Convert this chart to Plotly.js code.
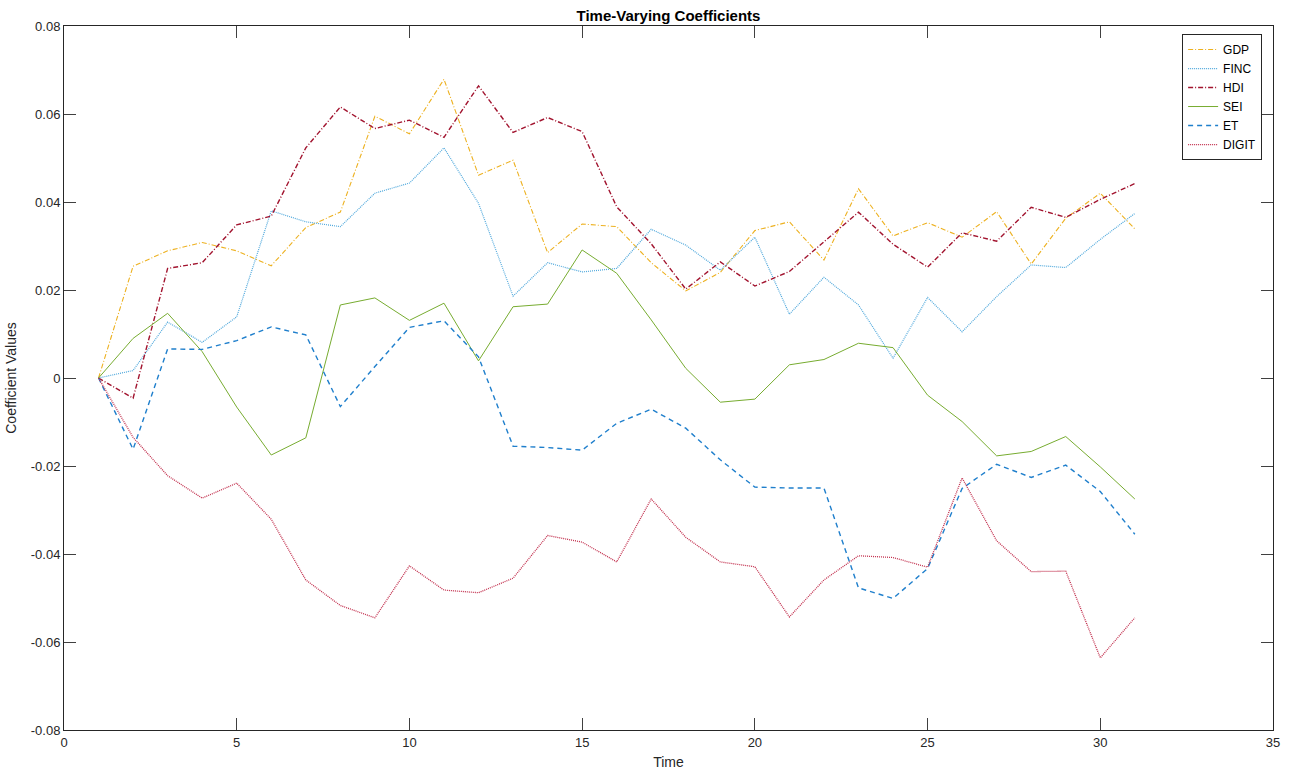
<!DOCTYPE html>
<html>
<head>
<meta charset="utf-8">
<script src="https://cdn.plot.ly/plotly-3.0.1.min.js"></script>
<style>
html,body{margin:0;padding:0;background:#fff;}
#chart{width:1294px;height:771px;}
</style>
</head>
<body>
<div id="chart"></div>
<script>
const time = [1,2,3,4,5,6,7,8,9,10,11,12,13,14,15,16,17,18,19,20,21,22,23,24,25,26,27,28,29,30,31];

const GDP = [0, 0.0254, 0.0289, 0.0308, 0.0289, 0.0255, 0.0342, 0.0377, 0.0595, 0.0555, 0.0679,
  0.0461, 0.0495, 0.0285, 0.0350, 0.0344, 0.0262, 0.0198, 0.0240, 0.0335, 0.0355,
  0.0268, 0.0430, 0.0323, 0.0353, 0.0320, 0.0378, 0.0259, 0.0363, 0.0420, 0.0339];

const FINC = [0, 0.0017, 0.0127, 0.0081, 0.0139, 0.0380, 0.0355, 0.0344, 0.0420, 0.0443, 0.0523,
  0.0397, 0.0186, 0.0262, 0.0241, 0.0249, 0.0338, 0.0302, 0.0245, 0.0320, 0.0145,
  0.0229, 0.0166, 0.0045, 0.0183, 0.0105, 0.0185, 0.0257, 0.0251, 0.0315, 0.0374];

const HDI = [0, -0.0046, 0.0249, 0.0262, 0.0348, 0.0368, 0.0523, 0.0616, 0.0567, 0.0586, 0.0547,
  0.0664, 0.0558, 0.0592, 0.0560, 0.0389, 0.0305, 0.0202, 0.0264, 0.0209, 0.0242,
  0.0310, 0.0377, 0.0304, 0.0252, 0.0330, 0.0311, 0.0388, 0.0365, 0.0406, 0.0442];

const SEI = [0, 0.0090, 0.0147, 0.0060, -0.0066, -0.0175, -0.0136, 0.0166, 0.0182, 0.0131, 0.0170,
  0.0039, 0.0162, 0.0168, 0.0291, 0.0238, 0.0132, 0.0022, -0.0055, -0.0048, 0.0030,
  0.0042, 0.0079, 0.0069, -0.0039, -0.0099, -0.0177, -0.0167, -0.0133, -0.0202, -0.0275];

const ET = [0, -0.0162, 0.0066, 0.0065, 0.0085, 0.0116, 0.0098, -0.0065, 0.0026, 0.0115, 0.0130,
  0.0048, -0.0155, -0.0158, -0.0164, -0.0103, -0.0071, -0.0114, -0.0186, -0.0248, -0.0250,
  -0.0250, -0.0477, -0.0501, -0.0433, -0.0251, -0.0196, -0.0226, -0.0198, -0.0258, -0.0355];

const DIGIT = [0, -0.0135, -0.0222, -0.0273, -0.0239, -0.0321, -0.0459, -0.0517, -0.0545, -0.0427, -0.0482,
  -0.0488, -0.0455, -0.0358, -0.0373, -0.0418, -0.0275, -0.0362, -0.0418, -0.0429, -0.0543,
  -0.0459, -0.0404, -0.0408, -0.0430, -0.0227, -0.0370, -0.0440, -0.0439, -0.0636, -0.0545];

const seriesNames = ['GDP', 'FINC', 'HDI', 'SEI', 'ET', 'DIGIT'];
const seriesData = [GDP, FINC, HDI, SEI, ET, DIGIT];
const seriesColors = ['#EDB120', '#4FA8DC', '#A2142F', '#77AC30', '#1F7FCC', '#C2304E'];
const seriesDash = ['5px,2px,1px,2px', '1px,1px', '5px,2px,1px,2px', 'solid', '5px,4px', '1px,1px'];
const seriesWidth = [1.1, 1.2, 1.4, 1.0, 1.4, 1.3];

const xTickVals = [0, 5, 10, 15, 20, 25, 30, 35];
const xTickText = ['0', '5', '10', '15', '20', '25', '30', '35'];
const yTickVals = [-0.08, -0.06, -0.04, -0.02, 0, 0.02, 0.04, 0.06, 0.08];
const yTickText = ['-0.08', '-0.06', '-0.04', '-0.02', '0', '0.02', '0.04', '0.06', '0.08'];

const traces = seriesNames.map((n, i) => ({
  type: 'scatter',
  mode: 'lines',
  name: n,
  x: time,
  y: seriesData[i],
  line: {color: seriesColors[i], width: seriesWidth[i], dash: seriesDash[i]}
}));

const font = {family: 'Liberation Sans, Arial, sans-serif', color: '#262626'};

const layout = {
  width: 1294,
  height: 771,
  margin: {l: 64, r: 21, t: 26, b: 41},
  paper_bgcolor: '#fff',
  plot_bgcolor: '#fff',
  font: Object.assign({size: 12}, font),
  title: {
    text: '<b>Time-Varying Coefficients</b>',
    font: Object.assign({size: 15}, font, {color: '#000'}),
    x: 0.5, xanchor: 'center', xref: 'paper',
    y: 1 - 16/771, yanchor: 'middle', yref: 'container'
  },
  xaxis: {
    range: [0, 35],
    tickvals: xTickVals,
    ticktext: xTickText,
    ticks: 'inside',
    ticklen: 12,
    tickcolor: '#404040',
    showline: true,
    linecolor: '#262626',
    linewidth: 1,
    mirror: 'allticks',
    showgrid: false,
    zeroline: false,
    tickfont: Object.assign({size: 13}, font),
    title: {text: 'Time', font: Object.assign({size: 14}, font), standoff: 8}
  },
  yaxis: {
    range: [-0.08, 0.08],
    tickvals: yTickVals,
    ticktext: yTickText,
    ticks: 'inside',
    ticklen: 12,
    tickcolor: '#404040',
    showline: true,
    linecolor: '#262626',
    linewidth: 1,
    mirror: 'allticks',
    showgrid: false,
    zeroline: false,
    tickfont: Object.assign({size: 13}, font),
    title: {text: 'Coefficient Values', font: Object.assign({size: 14}, font), standoff: 10}
  },
  legend: {
    x: 0.991, xanchor: 'right',
    y: 0.9886, yanchor: 'top',
    bgcolor: '#fff',
    bordercolor: '#262626',
    borderwidth: 1,
    font: Object.assign({size: 12}, font, {color: '#000'}),
    tracegroupgap: 0,
    itemwidth: 30
  },
  showlegend: true
};

Plotly.newPlot('chart', traces, layout, {displayModeBar: false, staticPlot: true});
</script>
</body>
</html>
